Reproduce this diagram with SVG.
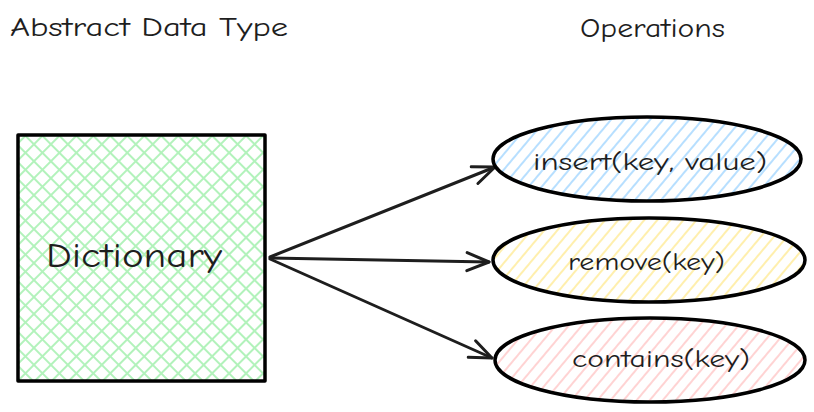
<svg xmlns="http://www.w3.org/2000/svg" width="814" height="412" viewBox="0 0 814 412">
<style>
.t{font-family:"Comic Neue","Noto Sans","Liberation Sans",sans-serif;fill:#1e1e1e}
.shape{stroke:#000;stroke-width:3.5;stroke-linejoin:round}
.conn{stroke:#1e1e1e;stroke-width:3;fill:none;stroke-linecap:round}
</style>
<defs>
<pattern id="hGreen" width="12" height="12" patternUnits="userSpaceOnUse" patternTransform="rotate(45)">
<rect width="12" height="12" fill="#fff"/>
<line x1="0" y1="6" x2="12" y2="6" stroke="#b2f2bb" stroke-width="2"/>
<line x1="6" y1="0" x2="6" y2="12" stroke="#b2f2bb" stroke-width="2"/>
</pattern>
<pattern id="hBlue" width="10" height="10" patternUnits="userSpaceOnUse" patternTransform="rotate(-50)">
<rect width="10" height="10" fill="#fff"/>
<line x1="0" y1="5" x2="10" y2="5" stroke="#a5d8ff" stroke-width="1.6"/>
</pattern>
<pattern id="hYellow" width="10" height="10" patternUnits="userSpaceOnUse" patternTransform="rotate(-50)">
<rect width="10" height="10" fill="#fff"/>
<line x1="0" y1="5" x2="10" y2="5" stroke="#ffec99" stroke-width="1.6"/>
</pattern>
<pattern id="hRed" width="10" height="10" patternUnits="userSpaceOnUse" patternTransform="rotate(-50)">
<rect width="10" height="10" fill="#fff"/>
<line x1="0" y1="5" x2="10" y2="5" stroke="#ffc9c9" stroke-width="1.6"/>
</pattern>
<marker id="arr" markerUnits="userSpaceOnUse" markerWidth="30" markerHeight="30" viewBox="-25 -15 30 30" refX="0" refY="0" orient="auto">
<path d="M-22,-9 L0,0 L-22,9" fill="none" stroke="#1e1e1e" stroke-width="3" stroke-linecap="round" stroke-linejoin="round"/>
</marker>
</defs>
<rect width="814" height="412" fill="#fff"/>
<g id="title-adt"><text class="t" x="10" y="36" font-size="26" textLength="278" lengthAdjust="spacingAndGlyphs">Abstract Data Type</text></g>
<g id="title-ops"><text class="t" x="580" y="37" font-size="26" textLength="145" lengthAdjust="spacingAndGlyphs">Operations</text></g>
<g id="dictionary">
<rect class="shape" x="18" y="135" width="247" height="246" fill="url(#hGreen)"/>
<text class="t" x="46" y="267" font-size="34" textLength="176" lengthAdjust="spacingAndGlyphs">Dictionary</text>
</g>
<g id="connectors">
<path class="conn" d="M270,257 L495,167" marker-end="url(#arr)"/>
<path class="conn" d="M270,258 L489,262" marker-end="url(#arr)"/>
<path class="conn" d="M270,259 L492,358" marker-end="url(#arr)"/>
</g>
<g id="insert">
<ellipse class="shape" cx="647" cy="159" rx="154" ry="42" fill="url(#hBlue)"/>
<text class="t" x="533" y="170" font-size="24" textLength="234" lengthAdjust="spacingAndGlyphs">insert(key, value)</text>
</g>
<g id="remove">
<ellipse class="shape" cx="649" cy="260" rx="156" ry="42" fill="url(#hYellow)"/>
<text class="t" x="568" y="270" font-size="24" textLength="157" lengthAdjust="spacingAndGlyphs">remove(key)</text>
</g>
<g id="contains">
<ellipse class="shape" cx="650" cy="360" rx="155" ry="42" fill="url(#hRed)"/>
<text class="t" x="572" y="367" font-size="24" textLength="178" lengthAdjust="spacingAndGlyphs">contains(key)</text>
</g>
</svg>
